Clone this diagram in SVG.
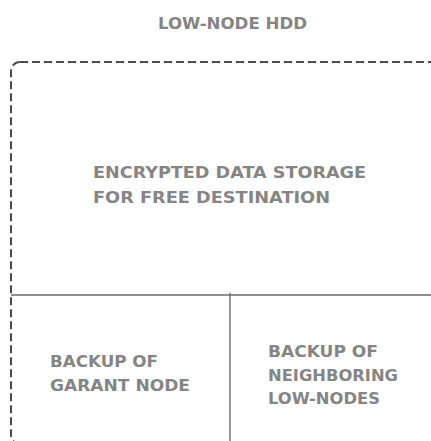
<svg xmlns="http://www.w3.org/2000/svg" width="431" height="441" viewBox="0 0 431 441">
<style>
.t{font-family:"DejaVu Sans","Liberation Sans",sans-serif;font-weight:bold;font-size:16.5px;fill:#858585}
.frame{fill:none;stroke:#4a4a4a;stroke-width:2;stroke-dasharray:8 4}
.div{fill:none;stroke:#6a6a6a;stroke-width:1.4}
</style>
<rect width="431" height="441" fill="#fff"/>
<g id="title"><text class="t" x="158" y="29" textLength="149" lengthAdjust="spacingAndGlyphs">LOW-NODE HDD</text></g>
<g id="hdd"><rect class="frame" x="11" y="62" width="500" height="382" rx="9" ry="9"/></g>
<g id="connectors">
<line class="div" x1="11" y1="295" x2="431" y2="295"/>
<line class="div" x1="230" y1="293" x2="230" y2="441"/>
</g>
<g id="encrypted"><text class="t" x="93" y="178" textLength="273" lengthAdjust="spacingAndGlyphs">ENCRYPTED DATA STORAGE</text><text class="t" x="93" y="203" textLength="237" lengthAdjust="spacingAndGlyphs">FOR FREE DESTINATION</text></g>
<g id="garant"><text class="t" x="50" y="367" textLength="108" lengthAdjust="spacingAndGlyphs">BACKUP OF</text><text class="t" x="50" y="391" textLength="140" lengthAdjust="spacingAndGlyphs">GARANT NODE</text></g>
<g id="neighbor"><text class="t" x="268" y="357" textLength="110" lengthAdjust="spacingAndGlyphs">BACKUP OF</text><text class="t" x="268" y="381" textLength="130" lengthAdjust="spacingAndGlyphs">NEIGHBORING</text><text class="t" x="268" y="404" textLength="112" lengthAdjust="spacingAndGlyphs">LOW-NODES</text></g>
</svg>
